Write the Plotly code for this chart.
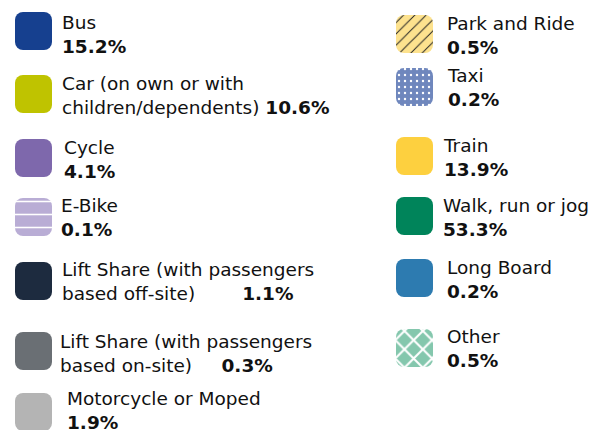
import plotly.graph_objects as go

# travel modes and their share of journeys
modes = ["Bus", "Car (on own or with<br>children/dependents)", "Cycle", "E-Bike",
         "Lift Share (with passengers<br>based off-site)",
         "Lift Share (with passengers<br>based on-site)",
         "Motorcycle or Moped", "Park and Ride", "Taxi", "Train",
         "Walk, run or jog", "Long Board", "Other"]
shares = [15.2, 10.6, 4.1, 0.1, 1.1, 0.3, 1.9, 0.5, 0.2, 13.9, 53.3, 0.2, 0.5]

# styles
colors = ["#16408f", "#bfc300", "#7e68ac", "#b9add5", "#1d2b3f", "#6a6f74", "#b4b4b4",
          "#fde28e", "#6f87bd", "#fdd03f", "#00845a", "#2d7bb0", "#84c7ad"]
pat_shape = ["", "", "", "-", "", "", "", "/", ".", "", "", "", "x"]
pat_fg = ["white", "white", "white", "white", "white", "white", "white",
          "#222222", "white", "white", "white", "white", "white"]
pat_size = [8, 8, 8, 13, 8, 8, 8, 8, 6, 8, 8, 8, 13]
pat_solid = [0.3, 0.3, 0.3, 0.12, 0.3, 0.3, 0.3, 0.12, 0.12, 0.3, 0.3, 0.3, 0.3]

# layout (pixel positions): swatch left/top, text x, text block centre
nb = "\u00a0"
sw_x = [15] * 7 + [396] * 6
sw_y = [12, 75, 139, 198, 262, 332, 393, 15, 68, 137, 197, 259, 329]
tx_x = [60, 60, 62, 59, 60, 58, 65, 445, 445, 441, 441, 445, 445]
tx_y = [34, 95, 159.5, 217.5, 281.5, 353.5, 410.5, 35, 87.5, 157.5, 217, 279, 348.5]
joins = ["<br>", " ", "<br>", "<br>", nb * 8, nb * 5, "<br>",
         "<br>", "<br>", "<br>", "<br>", "<br>", "<br>"]
SW, SH = 37, 38

fig = go.Figure()
for i, m in enumerate(modes):
    pattern = dict(shape=pat_shape[i], fgcolor=pat_fg[i], bgcolor=colors[i],
                   size=pat_size[i], solidity=pat_solid[i], fillmode="replace")
    fig.add_trace(go.Bar(
        x=[sw_x[i] + SW / 2], y=[SH], base=[sw_y[i]], width=[SW],
        marker=dict(color=colors[i], line=dict(width=0), cornerradius=8,
                    pattern=pattern if pat_shape[i] else None),
        hoverinfo="skip", showlegend=False))
    fig.add_annotation(
        x=tx_x[i], y=tx_y[i], xref="x", yref="y",
        text=f"{m}{joins[i]}<b>{shares[i]:.1f}%</b>",
        showarrow=False, xanchor="left", yanchor="middle", align="left",
        font=dict(family="DejaVu Sans", size=18.5, color="#111111"))

fig.update_layout(
    width=609, height=430, margin=dict(l=0, r=0, t=0, b=0),
    paper_bgcolor="white", plot_bgcolor="white", barmode="overlay",
    xaxis=dict(range=[0, 609], visible=False, fixedrange=True),
    yaxis=dict(range=[430, 0], visible=False, fixedrange=True),
)
fig.write_html("out.html", config={"displayModeBar": False},
               post_script="document.body.style.margin='0';")
